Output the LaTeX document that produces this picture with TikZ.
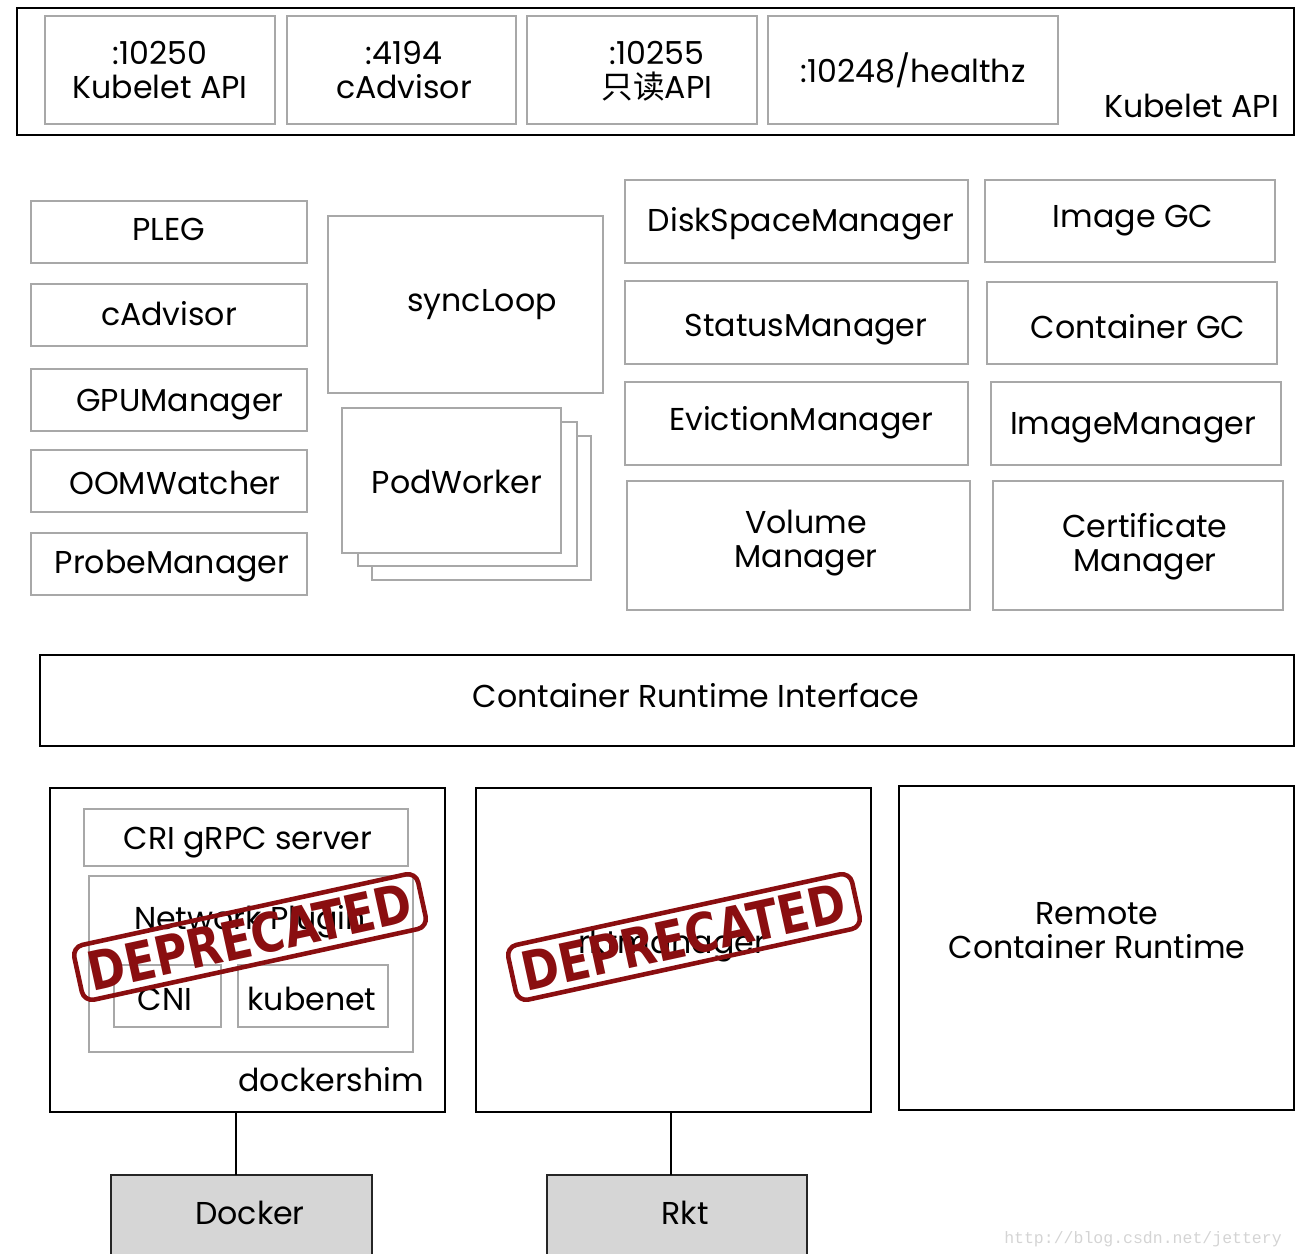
\documentclass[tikz,border=0pt]{standalone}
\usepackage{fontspec}
\usepackage{graphicx}
\setmainfont{Poppins}
\newfontfamily\gothic{Poppins}
\newfontfamily\cjk{Noto Sans CJK SC}
\newfontfamily\stampfont{DejaVu Sans}
\newfontfamily\wmfont{Liberation Mono}
\definecolor{boxgray}{HTML}{A8A8A8}
\definecolor{rtfill}{HTML}{D6D6D6}
\definecolor{stampred}{RGB}{138,14,16}
\definecolor{wmgray}{HTML}{D4D4D4}

% box from (x1,y1) to (x2,y2): #1 name, #2 x1, #3 y1, #4 x2, #5 y2, #6 style
\newcommand\bx[6]{%
  \node[#6, minimum width={(#4-#2)*0.02cm}, minimum height={(#5-#3)*0.02cm}]
    (#1) at ({(#2+#4)/2},{(#3+#5)/2}) {};
}
% one line of text centred on x, sitting on the baseline y: #1 name, #2 x, #3 y, #4 text
\newcommand\tl[4]{\node[txt, anchor=base] (#1) at (#2,#3) {#4};}

\begin{document}
\begin{tikzpicture}[x=0.02cm, y=-0.02cm,
  every node/.style={inner sep=0pt, outer sep=0pt},
  gbox/.style={draw=boxgray, line width=1.1pt, fill=white},
  kbox/.style={draw=black, line width=1.2pt, fill=white},
  rtbox/.style={draw=black!85, line width=1.2pt, fill=rtfill},
  txt/.style={font=\gothic\fontsize{18}{20}\selectfont},
  wire/.style={draw=black, line width=1.1pt},
  stamp/.style={draw=stampred, line width=2.6pt, rounded corners=6pt,
    minimum width=7.04cm, minimum height=1.12cm, text=stampred},
]
\useasboundingbox (0,0) rectangle (1296,1254);

% kubelet API ports
\bx{apiframe}{17}{8}{1294}{135}{kbox}
\node[txt, anchor=base east] (apilabel) at (1279,117) {Kubelet API};
\bx{p10250}{45}{16}{275}{124}{gbox}
\tl{p10250-a}{160}{64}{:10250}
\tl{p10250-b}{160}{98}{Kubelet API}
\bx{p4194}{287}{16}{516}{124}{gbox}
\tl{p4194-a}{404}{64}{:4194}
\tl{p4194-b}{404}{98}{cAdvisor}
\bx{p10255}{527}{16}{757}{124}{gbox}
\tl{p10255-a}{657}{64}{:10255}
\tl{p10255-b}{657}{98}{{\cjk 只读}API}
\bx{phealth}{768}{16}{1058}{124}{gbox}
\tl{phealth-a}{913}{82}{:10248/healthz}

% left column
\bx{pleg}{31}{201}{307}{263}{gbox}
\tl{pleg-t}{169}{240}{PLEG}
\bx{cadv}{31}{284}{307}{346}{gbox}
\tl{cadv-t}{169}{325}{cAdvisor}
\bx{gpu}{31}{369}{307}{431}{gbox}
\tl{gpu-t}{180}{411}{GPUManager}
\bx{oom}{31}{450}{307}{512}{gbox}
\tl{oom-t}{175}{494}{OOMWatcher}
\bx{probe}{31}{533}{307}{595}{gbox}
\tl{probe-t}{172}{573}{ProbeManager}

% sync loop and pod workers
\bx{sync}{328}{216}{603}{393}{gbox}
\tl{sync-t}{482}{311}{syncLoop}
\bx{pw3}{372}{436}{591}{580}{gbox}
\bx{pw2}{358}{422}{577}{566}{gbox}
\bx{pw1}{342}{408}{561}{553}{gbox}
\tl{pw1-t}{457}{493}{PodWorker}

% managers
\bx{disk}{625}{180}{968}{263}{gbox}
\tl{disk-t}{801}{231}{DiskSpaceManager}
\bx{imggc}{985}{180}{1275}{262}{gbox}
\tl{imggc-t}{1133}{227}{Image GC}
\bx{status}{625}{281}{968}{364}{gbox}
\tl{status-t}{806}{336}{StatusManager}
\bx{contgc}{987}{282}{1277}{364}{gbox}
\tl{contgc-t}{1138}{338}{Container GC}
\bx{evict}{625}{382}{968}{465}{gbox}
\tl{evict-t}{801}{430}{EvictionManager}
\bx{imgmgr}{991}{382}{1281}{465}{gbox}
\tl{imgmgr-t}{1133}{434}{ImageManager}
\bx{volume}{627}{481}{970}{610}{gbox}
\tl{volume-a}{806}{533}{Volume}
\tl{volume-b}{806}{567}{Manager}
\bx{cert}{993}{481}{1283}{610}{gbox}
\tl{cert-a}{1145}{537}{Certificate}
\tl{cert-b}{1145}{571}{Manager}

% runtime interface
\bx{cri}{40}{655}{1294}{746}{kbox}
\tl{cri-t}{696}{707}{Container Runtime Interface}

% dockershim
\bx{dshim}{50}{788}{445}{1112}{kbox}
\node[txt, anchor=base east] (dshimlabel) at (424,1091) {dockershim};
\bx{grpc}{84}{809}{408}{866}{gbox}
\tl{grpc-t}{248}{849}{CRI gRPC server}
\bx{netp}{89}{876}{413}{1052}{gbox}
\tl{netp-t}{250}{929}{Network Plugin}
\bx{cni}{114}{965}{221}{1027}{gbox}
\tl{cni-t}{165}{1010}{CNI}
\bx{kubenet}{238}{965}{388}{1027}{gbox}
\tl{kubenet-t}{312}{1010}{kubenet}

% rkt manager and remote runtime
\bx{rktm}{476}{788}{871}{1112}{kbox}
\tl{rktm-t}{672}{953}{rktmanager}
\bx{remote}{899}{786}{1294}{1110}{kbox}
\tl{remote-a}{1097}{924}{Remote}
\tl{remote-b}{1097}{958}{Container Runtime}

% container engines
\bx{docker}{111}{1175}{372}{1262}{rtbox}
\tl{docker-t}{250}{1224}{Docker}
\bx{rkt}{547}{1175}{807}{1262}{rtbox}
\tl{rkt-t}{685}{1224}{Rkt}
\draw[wire] (docker.north -| 236,0) -- (dshim.south -| 236,0);
\draw[wire] (rkt.north -| 671,0) -- (rktm.south -| 671,0);

% deprecation stamps
\node[stamp, rotate=12.3] (stamp1) at (250,937)
  {\resizebox{6.6cm}{0.8cm}{\stampfont\bfseries DEPRECATED}};
\node[stamp, rotate=12.3] (stamp2) at (684,937)
  {\resizebox{6.6cm}{0.8cm}{\stampfont\bfseries DEPRECATED}};

% watermark
\node[text=wmgray, font=\wmfont\fontsize{9.4}{10}\selectfont] (wm) at (1143,1239)
  {http://blog.csdn.net/jettery};
\end{tikzpicture}
\end{document}
